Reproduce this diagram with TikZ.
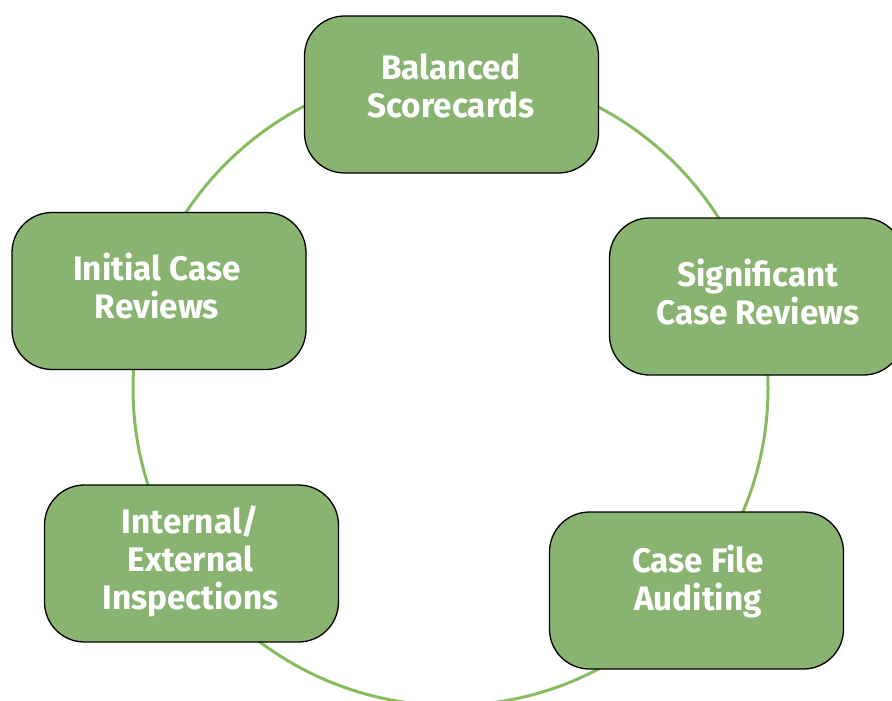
\documentclass[tikz,border=0pt]{standalone}
\usepackage{fontspec}
\setmainfont{Fira Sans}[FakeStretch=0.98]
\definecolor{boxgreen}{RGB}{137,179,112}
\definecolor{ringgreen}{RGB}{135,187,98}
\begin{document}
\begin{tikzpicture}[x=1pt,y=-1pt,
  stage/.style={draw=black, line width=1.3pt, fill=boxgreen,
    rounded corners=40pt, minimum width=294pt, minimum height=157pt,
    inner sep=0pt},
  stagetext/.style={text=white, align=center, inner sep=0pt,
    font=\fontsize{34}{38}\selectfont\bfseries, anchor=base}]
\useasboundingbox (0,0) rectangle (892,701);
% cycle ring behind the stages
\draw[ringgreen, line width=3pt] (450.5,388) circle[radius=317.5pt];
% stages
\node[stage] (bal) at (451.5,94.5) {};
\node[stage] (sig) at (756.5,296.5) {};
\node[stage] (aud) at (696.5,590.5) {};
\node[stage] (ins) at (191.5,563.5) {};
\node[stage] (ini) at (159,291) {};
% stage titles (anchored at the baseline of the last line)
\node[stagetext] (balt) at (451,117.5) {Balanced\\Scorecards};
\node[stagetext] (sigt) at (758,324) {Significant\\Case Reviews};
\node[stagetext] (audt) at (698,610) {Case File\\Auditing};
\node[stagetext] (inst) at (190.5,609) {Internal/\\External\\Inspections};
\node[stagetext] (init) at (157,318) {Initial Case\\Reviews};
\end{tikzpicture}
\end{document}
